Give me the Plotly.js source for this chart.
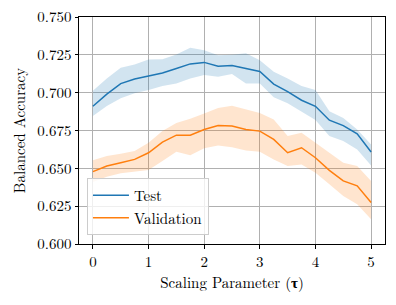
<!DOCTYPE html>
<html>
<head>
<meta charset="utf-8">
<script src="https://cdn.plot.ly/plotly-3.0.1.min.js"></script>
<style>html,body{margin:0;padding:0;background:#fff;}#chart{width:396px;height:305px;}</style>
</head>
<body>
<div id="chart"></div>
<script>
const tau = [0,0.25,0.5,0.75,1,1.25,1.5,1.75,2,2.25,2.5,2.75,3,3.25,3.5,3.75,4,4.25,4.5,4.75,5];
const testMean = [0.691,0.699,0.706,0.709,0.711,0.713,0.716,0.719,0.720,0.7175,0.718,0.716,0.714,0.7057,0.7007,0.695,0.691,0.6818,0.6782,0.6728,0.6608];
const testUpper = [0.7013,0.7094,0.7164,0.7186,0.7219,0.722,0.7252,0.7296,0.728,0.7248,0.725,0.726,0.7215,0.7138,0.7094,0.7044,0.7018,0.6877,0.6833,0.6757,0.6658];
const testLower = [0.6846,0.6912,0.6963,0.6996,0.7018,0.7044,0.706,0.7094,0.7116,0.7105,0.7123,0.706,0.706,0.697,0.693,0.6875,0.682,0.6713,0.668,0.6625,0.6518];
const valMean = [0.6478,0.6515,0.6537,0.6559,0.6603,0.6673,0.6719,0.6719,0.6757,0.6783,0.6779,0.6757,0.6746,0.6691,0.6603,0.6636,0.657,0.6487,0.6417,0.6384,0.6274];
const valUpper = [0.6553,0.6581,0.6596,0.6614,0.6669,0.6746,0.68,0.6827,0.6862,0.6899,0.6914,0.6888,0.6866,0.6822,0.6713,0.6735,0.6669,0.6603,0.6537,0.6515,0.6417];
const valLower = [0.641,0.6445,0.6467,0.648,0.6489,0.6548,0.661,0.6586,0.6632,0.6651,0.664,0.6618,0.661,0.6559,0.6515,0.6526,0.6471,0.6395,0.6318,0.6263,0.6164];
const seriesNames = ["Test","Validation"];
const xTicks = [0,1,2,3,4,5];
const yTicks = [0.600,0.625,0.650,0.675,0.700,0.725,0.750];

const FAM = "Latin Modern Roman";
const F = (size) => ({family: FAM, size: size, color: "#000"});
function band(up, lo, color) {
  return [
    {x: tau, y: up, mode: "lines", line: {width: 0}, showlegend: false, hoverinfo: "skip"},
    {x: tau, y: lo, mode: "lines", line: {width: 0}, fill: "tonexty", fillcolor: color, showlegend: false, hoverinfo: "skip"}
  ];
}
const data = [
  ...band(testUpper, testLower, "rgba(31,119,180,0.2)"),
  ...band(valUpper, valLower, "rgba(255,127,14,0.2)"),
  {x: tau, y: testMean, mode: "lines", name: seriesNames[0], line: {color: "#1f77b4", width: 1.5}},
  {x: tau, y: valMean, mode: "lines", name: seriesNames[1], line: {color: "#ff7f0e", width: 1.5}}
];
const layout = {
  width: 396, height: 305,
  margin: {l: 79, r: 11, t: 17, b: 61},
  paper_bgcolor: "#fff", plot_bgcolor: "#fff",
  font: F(15),
  showlegend: true,
  legend: {x: 0.026, y: 0.04, xanchor: "left", yanchor: "bottom", traceorder: "normal",
    bgcolor: "rgba(255,255,255,0.8)", bordercolor: "#cccccc", borderwidth: 1,
    font: F(15), tracegroupgap: 0, itemwidth: 36},
  xaxis: {range: [-0.25, 5.25], tickvals: xTicks, ticktext: xTicks.map(String), tickfont: F(15),
    showgrid: true, gridcolor: "#b0b0b0", gridwidth: 1, zeroline: false,
    showline: true, linecolor: "#000", linewidth: 1, mirror: true,
    ticks: "outside", ticklen: 3.5, tickcolor: "#000",
    title: {text: "Scaling Parameter (<b>τ</b>)", font: F(15), standoff: 6}},
  yaxis: {range: [0.600, 0.750], tickvals: yTicks, ticktext: yTicks.map(v => v.toFixed(3)), tickfont: F(15),
    showgrid: true, gridcolor: "#b0b0b0", gridwidth: 1, zeroline: false,
    showline: true, linecolor: "#000", linewidth: 1, mirror: true,
    ticks: "outside", ticklen: 3.5, tickcolor: "#000",
    title: {text: "Balanced Accuracy", font: F(15), standoff: 8}}
};
Plotly.newPlot("chart", data, layout, {displayModeBar: false, staticPlot: true});
</script>
</body>
</html>
